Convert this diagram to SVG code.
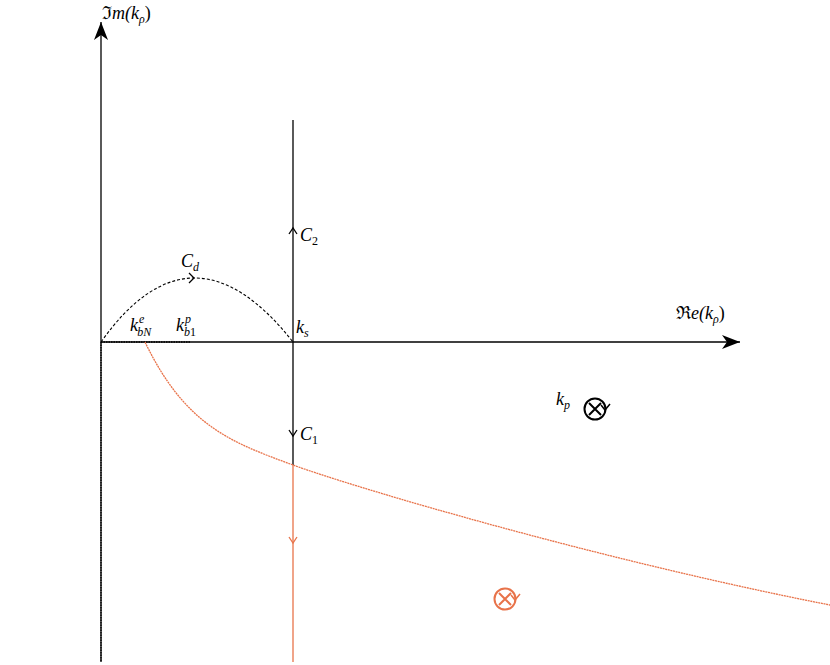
<svg xmlns="http://www.w3.org/2000/svg" width="830" height="665" viewBox="0 0 830 665">
<style>
text{font-family:"Liberation Serif",serif;font-style:italic;font-size:18px}
.up{font-style:normal}
.ax{stroke:#000;stroke-width:1.3;fill:none}
.or{stroke:#e8734a;fill:none;stroke-width:1.3}
</style>
<defs>
<marker id="big" markerWidth="20" markerHeight="14" refX="18" refY="7" orient="auto" markerUnits="userSpaceOnUse"><path d="M0,0 L18,7 L0,14 L5,7Z" fill="#000"/></marker>
</defs>
<rect width="830" height="665" fill="#fff"/>
<g id="axes">
<path class="ax" d="M101,662 V22" marker-end="url(#big)"/>
<path class="ax" d="M101,342 H740" marker-end="url(#big)"/>
</g>
<g id="connectors">
<path class="ax" d="M293,120 V465"/>
<path class="or" d="M293,465 V662"/>
<path d="M101,342 Q192,214 293,342" fill="none" stroke="#000" stroke-width="1.1" stroke-dasharray="3,2"/>
<path class="ax" d="M101,342 V662" stroke-width="2.2" stroke-dasharray="1.5,1"/>
<path class="ax" d="M101,342 H190" stroke-width="2.2" stroke-dasharray="1.5,1"/>
<path class="or" d="M145,342 C185,425 230,442 293,465 S600,560 830,605" stroke-width="1.6" stroke-dasharray="2,0.7"/>
<path class="ax" d="M289,234 L293,228 L297,234"/>
<path class="ax" d="M289,430 L293,436 L297,430"/>
<path class="or" d="M289,537 L293,543 L297,537"/>
<path class="ax" d="M189,273 L194,278 L189,283"/>
</g>
<g id="kp">
<circle cx="595" cy="409" r="10.5" fill="none" stroke="#000" stroke-width="2"/>
<path d="M589,403 L601,415 M601,403 L589,415" stroke="#000" stroke-width="2"/>
<path d="M601,405 L605,410 L610,404" fill="none" stroke="#000" stroke-width="1.5"/>
</g>
<g id="kp2">
<circle cx="505" cy="599" r="10.5" fill="none" stroke="#e8734a" stroke-width="2"/>
<path d="M499,593 L511,605 M511,593 L499,605" stroke="#e8734a" stroke-width="2"/>
<path d="M511,595 L515,600 L520,594" fill="none" stroke="#e8734a" stroke-width="1.5"/>
</g>
<g id="labels">
<text x="102" y="19"><tspan class="up">ℑ</tspan>m(k<tspan font-size="12" dy="4">ρ</tspan><tspan class="up" dy="-4">)</tspan></text>
<text x="676" y="319"><tspan class="up">ℜ</tspan>e(k<tspan font-size="12" dy="4">ρ</tspan><tspan class="up" dy="-4">)</tspan></text>
<text x="181" y="267">C<tspan font-size="12" dy="4">d</tspan></text>
<text x="300" y="241">C<tspan font-size="12" class="up" dy="4">2</tspan></text>
<text x="300" y="440">C<tspan font-size="12" class="up" dy="4">1</tspan></text>
<text x="296" y="333">k<tspan font-size="12" dy="4">s</tspan></text>
<text x="130" y="331">k<tspan font-size="12" dx="1" dy="-8">e</tspan><tspan font-size="12" dx="-7" dy="13">bN</tspan></text>
<text x="176" y="331">k<tspan font-size="12" dx="1" dy="-8">p</tspan><tspan font-size="12" dx="-7" dy="13">b<tspan class="up">1</tspan></tspan></text>
<text x="556" y="405">k<tspan font-size="12" dy="4">p</tspan></text>
</g>
</svg>
